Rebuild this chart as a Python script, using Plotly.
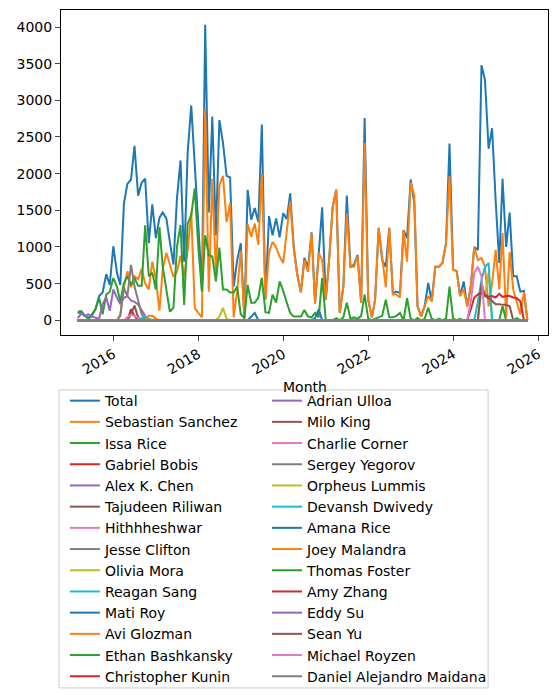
import pandas as pd
import plotly.graph_objects as go

# monthly hours, 2015-03 .. 2025-10
first_month = "2015-03-01"
n_months = 128
months = pd.date_range(first_month, periods=n_months, freq="MS")

total = [
    100, 110, 60, 30, 80, 150, 330, 380, 630, 480,
    1010, 650, 480, 1590, 1860, 1920, 2380, 1700, 1880, 1930,
    1050, 1580, 1120, 1400, 1470, 1390, 1070, 760, 1660, 2180,
    800, 2280, 2930, 2040, 1300, 420, 4030, 1470, 2780, 1160,
    2730, 2420, 1970, 1950, 460, 820, 1050, 30, 1780, 1370,
    1530, 1340, 2670, 280, 1420, 1160, 1390, 1130, 1460, 1380,
    1730, 1000, 620, 380, 850, 720, 1200, 230, 920, 1540,
    280, 870, 1540, 1780, 100, 460, 1700, 730, 760, 890,
    240, 2760, 280, 40, 280, 1260, 820, 730, 1260, 370,
    390, 370, 1230, 1120, 1920, 1610, 190, 50, 190, 510,
    260, 730, 730, 780, 1050, 2410, 690, 670, 330, 530,
    190, 460, 1000, 960, 3480, 3280, 2340, 2620, 1630, 780,
    1930, 1000, 1470, 600, 600, 390, 400, 0,
]

sebastian_sanchez = [
    0, 0, 0, 0, 0, 0, 0, 0, 0, 0,
    0, 0, 80, 450, 670, 450, 600, 560, 700, 500,
    420, 800, 560, 130, 700, 920, 760, 590, 660, 880,
    590, 950, 1480, 170, 100, 40, 2880, 390, 1930, 620,
    1840, 1970, 1340, 1600, 40, 400, 950, 0, 1310, 1140,
    1320, 1030, 2000, 280, 920, 1070, 990, 870, 780, 1200,
    1630, 960, 620, 380, 820, 660, 1190, 230, 920, 820,
    280, 870, 1540, 1780, 100, 460, 1460, 730, 730, 870,
    240, 2420, 280, 40, 280, 1260, 820, 450, 1260, 350,
    350, 310, 1230, 800, 1880, 1700, 190, 50, 190, 330,
    260, 730, 730, 780, 1050, 1970, 690, 670, 330, 420,
    190, 460, 1000, 820, 850, 730, 190, 500, 960, 420,
    1190, 50, 930, 420, 250, 80, 380, 0,
]

issa_rice = [
    117, 126, 60, 20, 60, 160, 306, 80, 350, 390,
    576, 460, 250, 508, 600, 480, 576, 470, 470, 1296,
    600, 650, 420, 1270, 730, 400, 120, 170, 1000, 1300,
    210, 1320, 1430, 1800, 990, 390, 1160, 890, 870, 530,
    990, 420, 420, 380, 380, 460, 80, 30, 480, 240,
    240, 310, 580, 110, 100, 350, 240, 530, 400, 240,
    100, 50, 50, 50, 140, 50, 40, 100, 40, 580,
    0, 0, 0, 30, 0, 40, 240, 20, 40, 20,
    60, 350, 20, 0, 20, 40, 60, 280, 40, 40,
    60, 100, 0, 300, 20, 0, 30, 0, 20, 170,
    20, 0, 20, 0, 20, 460, 20, 0, 20, 0,
    0, 0, 0, 0, 0, 0, 0, 0, 0, 0,
    0, 0, 0, 0, 0, 0, 0, 0,
]

# smaller contributors: first month of the list, then monthly hours
gabriel_bobis_start, gabriel_bobis = "2016-06-01", [150, 60]
alex_k_chen_start, alex_k_chen = "2015-03-01", [
    30, 90, 60, 80, 50, 40, 20, 220, 315, 130,
    420, 310, 220, 306, 328, 270, 252, 216, 126, 60,
]
tajudeen_riliwan_start, tajudeen_riliwan = "2016-06-01", [80, 200, 40]
hithhheshwar_start, hithhheshwar = "2016-05-01", [40, 80, 60, 30, 0, 60]
jesse_clifton_start, jesse_clifton = "2016-03-01", [60, 441, 328, 756, 463, 261, 81, 13]
olivia_mora_start, olivia_mora = "2018-07-01", [50, 170, 20]
reagan_sang_start, reagan_sang = "2016-09-01", [30, 50, 20]
mati_roy_start, mati_roy = "2019-04-01", [50, 100]
mati_roy_2_start, mati_roy_2 = "2020-10-01", [30, 150]
avi_glozman_start, avi_glozman = "2016-11-01", [60, 60, 20]
orpheus_lummis_start, orpheus_lummis = "2024-08-01", [0, 450, 330, 650]
devansh_dwivedy_start, devansh_dwivedy = "2024-07-01", [0, 250, 550, 730, 780]
thomas_foster_start, thomas_foster = "2025-02-01", [0, 190, 0, 0, 0, 30]
amy_zhang_start, amy_zhang = "2024-05-01", [
    0, 150, 310, 350, 380, 350, 320, 330, 310, 360,
    320, 330, 330, 310, 300, 260, 0,
]
sean_yu_start, sean_yu = "2024-08-01", [0, 500, 330, 300, 260, 220, 220, 210, 210, 190]
michael_royzen_start, michael_royzen = "2024-05-01", [0, 250, 650, 730, 600]

left_names = [
    "Total", "Sebastian Sanchez", "Issa Rice", "Gabriel Bobis", "Alex K. Chen",
    "Tajudeen Riliwan", "Hithhheshwar", "Jesse Clifton", "Olivia Mora",
    "Reagan Sang", "Mati Roy", "Avi Glozman", "Ethan Bashkansky", "Christopher Kunin",
]
right_names = [
    "Adrian Ulloa", "Milo King", "Charlie Corner", "Sergey Yegorov", "Orpheus Lummis",
    "Devansh Dwivedy", "Amana Rice", "Joey Malandra", "Thomas Foster", "Amy Zhang",
    "Eddy Su", "Sean Yu", "Michael Royzen", "Daniel Alejandro Maidana",
]

month_pos = {m.strftime("%Y-%m-%d"): i for i, m in enumerate(months)}


def pad(*parts):
    out = [0] * n_months
    for start, vals in parts:
        i0 = month_pos[start]
        for k, v in enumerate(vals):
            out[i0 + k] = v
    return out


series = {
    "Total": total,
    "Sebastian Sanchez": sebastian_sanchez,
    "Issa Rice": issa_rice,
    "Gabriel Bobis": pad((gabriel_bobis_start, gabriel_bobis)),
    "Alex K. Chen": pad((alex_k_chen_start, alex_k_chen)),
    "Tajudeen Riliwan": pad((tajudeen_riliwan_start, tajudeen_riliwan)),
    "Hithhheshwar": pad((hithhheshwar_start, hithhheshwar)),
    "Jesse Clifton": pad((jesse_clifton_start, jesse_clifton)),
    "Olivia Mora": pad((olivia_mora_start, olivia_mora)),
    "Reagan Sang": pad((reagan_sang_start, reagan_sang)),
    "Mati Roy": pad((mati_roy_start, mati_roy), (mati_roy_2_start, mati_roy_2)),
    "Avi Glozman": pad((avi_glozman_start, avi_glozman)),
    "Orpheus Lummis": pad((orpheus_lummis_start, orpheus_lummis)),
    "Devansh Dwivedy": pad((devansh_dwivedy_start, devansh_dwivedy)),
    "Thomas Foster": pad((thomas_foster_start, thomas_foster)),
    "Amy Zhang": pad((amy_zhang_start, amy_zhang)),
    "Sean Yu": pad((sean_yu_start, sean_yu)),
    "Michael Royzen": pad((michael_royzen_start, michael_royzen)),
}

colors = ["#1f77b4", "#ff7f0e", "#2ca02c", "#d62728", "#9467bd",
          "#8c564b", "#e377c2", "#7f7f7f", "#bcbd22", "#17becf"]

fig = go.Figure()
all_names = left_names + right_names
for i, name in enumerate(all_names):
    fig.add_trace(go.Scatter(
        x=months,
        y=series.get(name, [0] * n_months),
        mode="lines",
        name=name,
        line=dict(color=colors[i % 10], width=2),
        legend="legend" if name in left_names else "legend2",
    ))

font = dict(family="DejaVu Sans", size=14, color="black")
legend_common = dict(
    orientation="v",
    xanchor="left",
    y=-0.154,
    yanchor="top",
    bgcolor="rgba(0,0,0,0)",
    borderwidth=0,
    font=font,
    traceorder="normal",
)

# legend frame, like matplotlib's
fig.add_shape(
    type="rect", xref="paper", yref="paper",
    x0=-0.004, x1=0.877, y0=-0.169, y1=-1.086,
    line=dict(color="#cccccc", width=1),
    fillcolor="rgba(255,255,255,0.8)",
    layer="above",
)

fig.add_annotation(
    text="Month", xref="paper", yref="paper", x=0.5, y=-0.16,
    xanchor="center", yanchor="middle", showarrow=False, font=font,
)

# the page body keeps an 8px margin, so the figure is 8px smaller
fig.update_layout(
    width=552,
    height=688,
    margin=dict(l=53, r=12, t=2, b=361, autoexpand=False),
    plot_bgcolor="white",
    paper_bgcolor="white",
    font=font,
    showlegend=True,
    legend=dict(x=0.008, **legend_common),
    legend2=dict(x=0.423, **legend_common),
    xaxis=dict(
        type="date",
        range=["2014-10-08", "2026-03-27"],
        tick0="2016-01-01",
        dtick="M24",
        tickformat="%Y",
        tickangle=-30,
        ticks="outside",
        ticklen=5,
        showgrid=False,
        zeroline=False,
        showline=True,
        linecolor="black",
        linewidth=1,
        mirror=True,
        automargin=False,
    ),
    yaxis=dict(
        range=[-201, 4232],
        tickvals=[0, 500, 1000, 1500, 2000, 2500, 3000, 3500, 4000],
        ticks="outside",
        ticklen=5,
        showgrid=False,
        zeroline=False,
        showline=True,
        linecolor="black",
        linewidth=1,
        mirror=True,
        automargin=False,
    ),
)

fig.write_html("out.html")
